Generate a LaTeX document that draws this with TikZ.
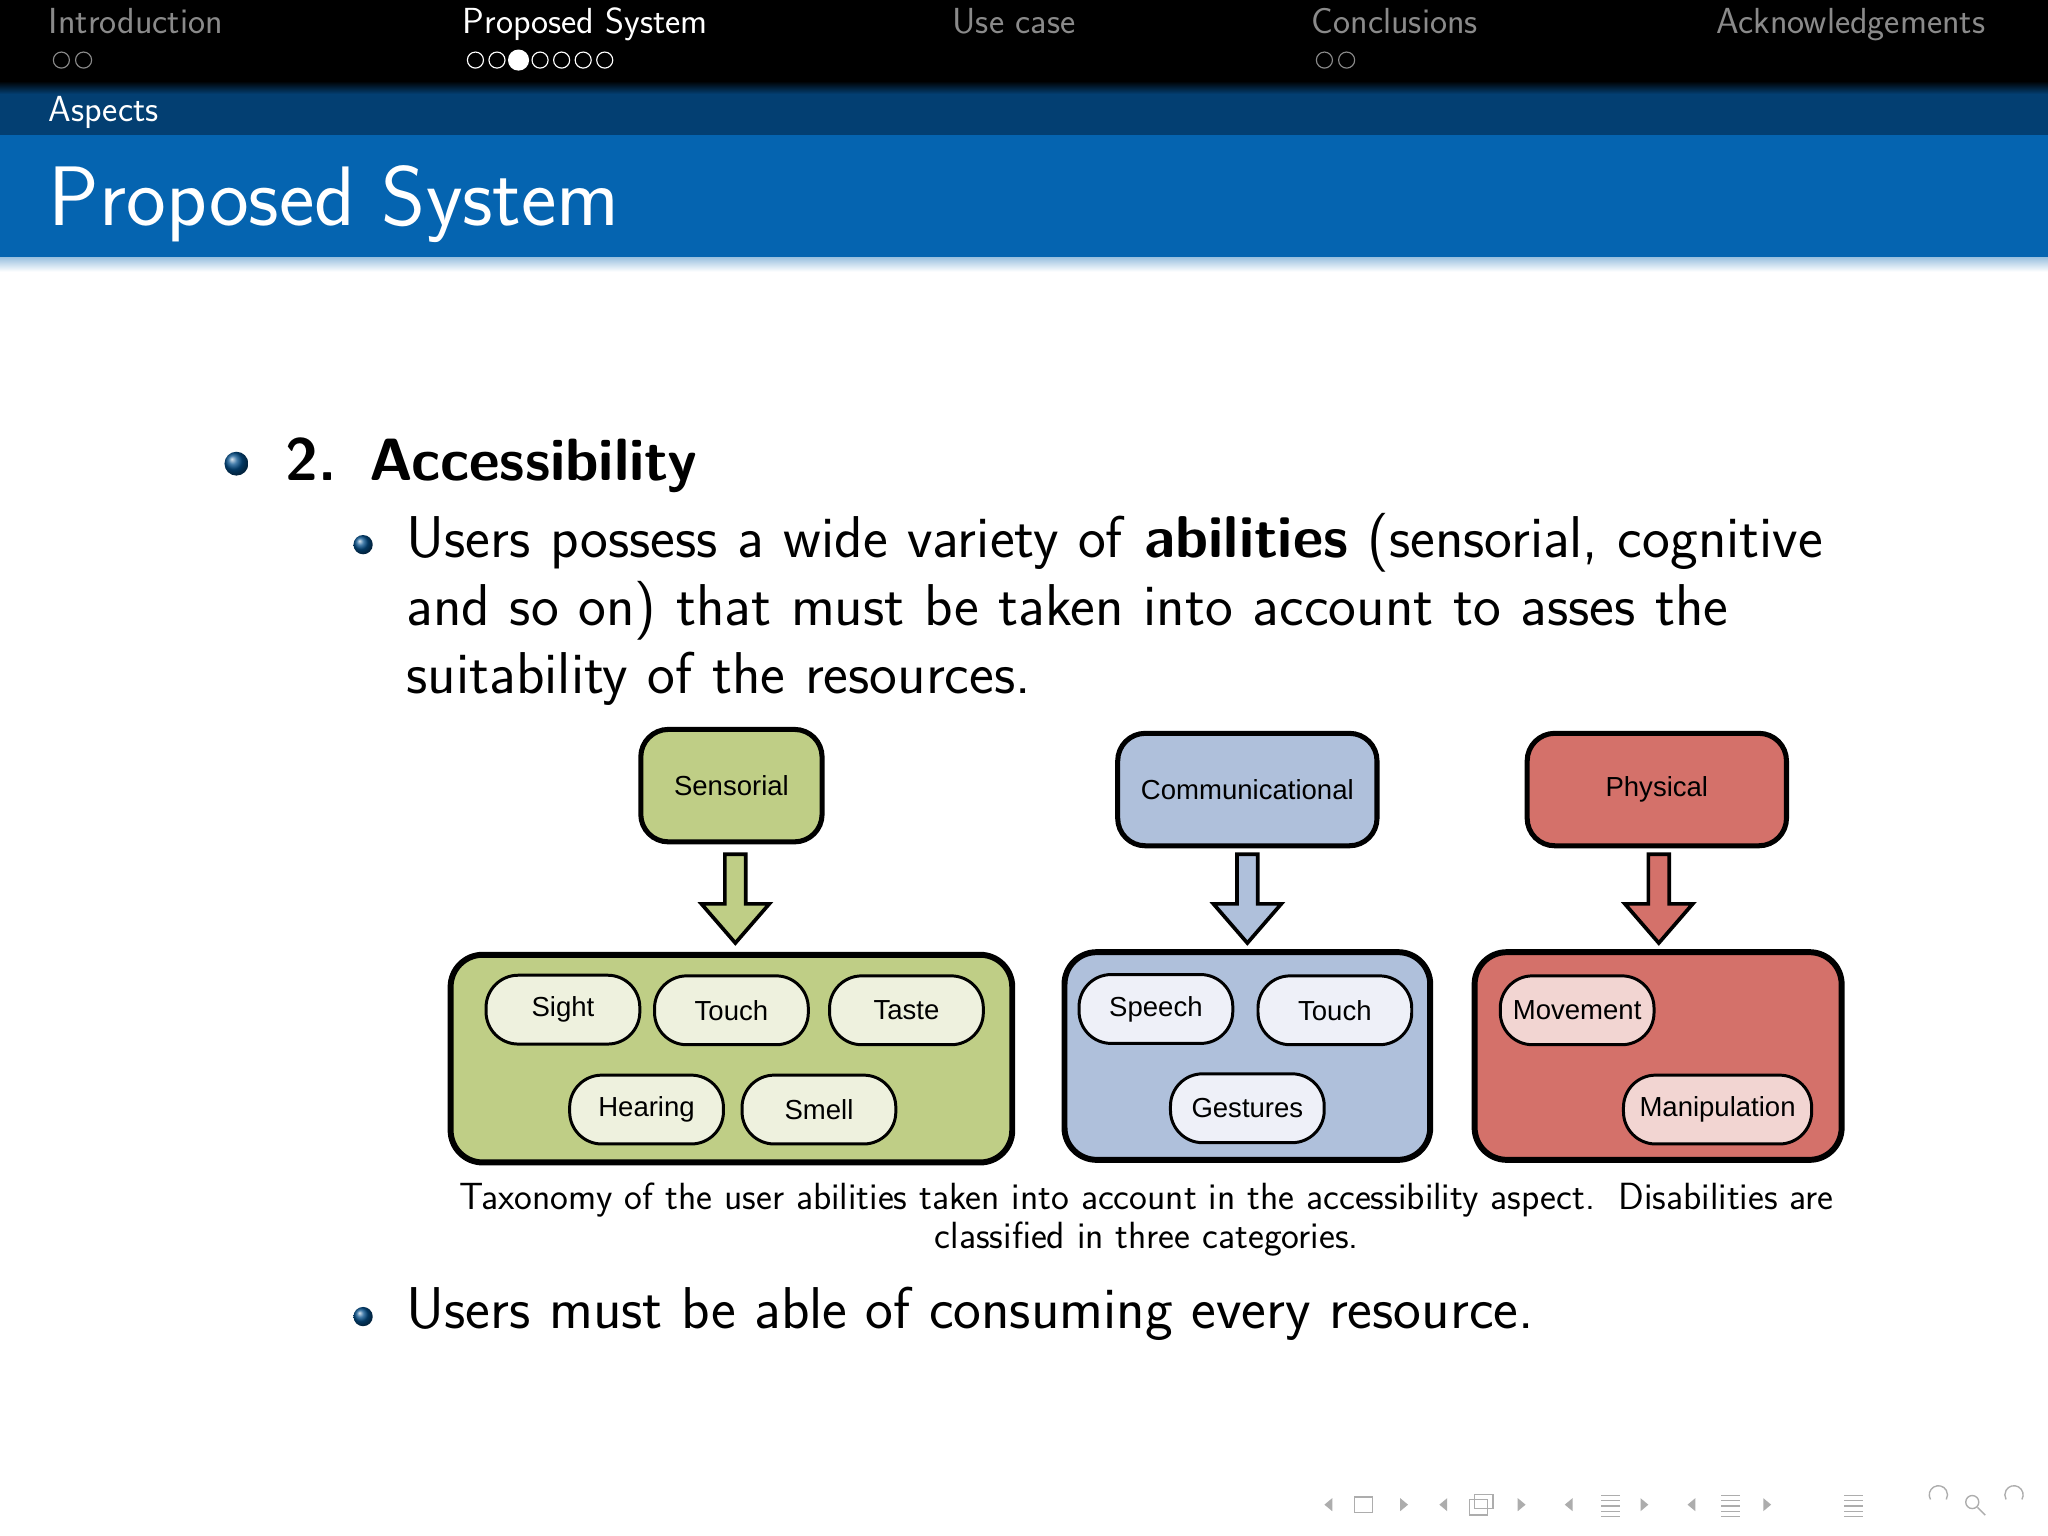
\documentclass[tikz,border=0pt]{standalone}
\usepackage{fontspec}
\newfontfamily\arial{Liberation Sans}
\usetikzlibrary{shadings,calc}
\definecolor{hdrblue}{HTML}{0564B0}
\definecolor{hdrdark}{HTML}{033F72}
\definecolor{navgray}{HTML}{8A8A8A}
\definecolor{gfill}{HTML}{BFCE86}
\definecolor{bfill}{HTML}{AFC0DB}
\definecolor{rfill}{HTML}{D4716A}
\definecolor{gpill}{HTML}{EEF1DE}
\definecolor{bpill}{HTML}{EEF0F8}
\definecolor{rpill}{HTML}{F2D5D2}
\tikzset{
 cat/.style={draw=black,line width=2.2pt,rounded corners=12pt,font=\arial\fontsize{12}{14}\selectfont},
 big/.style={draw=black,line width=2.6pt,rounded corners=14pt},
 pill/.style={draw=black,line width=1.3pt,rounded corners=14pt,minimum width=67pt,minimum height=30pt,font=\arial\fontsize{12}{14}\selectfont,inner sep=0pt},
 blk/.style={draw=black,line width=1.6pt,line join=miter},
 nav/.style={text=navgray,font=\sffamily\fontsize{15.8}{18}\selectfont,anchor=base west,inner sep=0pt},
 navdot/.style={draw=navgray,line width=0.5pt,circle,inner sep=0pt,minimum size=7pt},
 txt/.style={anchor=base west,inner sep=0pt},
}
\newcommand{\bball}[2]{\shade[ball color=hdrblue!80!black] (#1,#2) circle (5.2pt);}
\newcommand{\sball}[2]{\shade[ball color=hdrblue!80!black] (#1,#2) circle (4.2pt);}
\newcommand{\blockarrow}[3]{% x, ytop, fill
 \draw[blk,fill=#3] (#1-8,#2) -- (#1+8,#2) -- (#1+8,#2+38) -- (#1+26,#2+38) -- (#1,#2+68) -- (#1-26,#2+38) -- (#1-8,#2+38) -- cycle;}
\begin{document}
\begin{tikzpicture}[x=0.02cm,y=-0.02cm]
\useasboundingbox (0,0) rectangle (1568,1176);
\fill[white] (0,0) rectangle (1568,1176);
% header
\fill[black] (0,0) rectangle (1568,68);
\shade[top color=black,bottom color=hdrdark] (0,62) rectangle (1568,72);
\fill[hdrdark] (0,72) rectangle (1568,103);
\fill[hdrblue] (0,103) rectangle (1568,197);
\shade[top color=hdrblue!40,bottom color=white] (0,197) rectangle (1568,208);
\node[nav] (n1) at (37,26) {Introduction};
\node[nav,text=white] (n2) at (354,26) {Proposed System};
\node[nav] (n3) at (729,26) {Use case};
\node[nav] (n4) at (1004,26) {Conclusions};
\node[nav] (n5) at (1314,26) {Acknowledgements};
\foreach \x in {0,1}{\node[navdot] at (47+\x*17,46) {};}
\foreach \x in {0,...,6}{\node[navdot,draw=white] at (364+\x*16.5,46) {};}
\fill[white] (397,46) circle (4.6pt);
\foreach \x in {0,1}{\node[navdot] at (1014+\x*17,46) {};}
\node[txt,text=white,font=\sffamily\fontsize{15.8}{18}\selectfont] (asp) at (37,93) {Aspects};
\node[txt,text=white,font=\sffamily\fontsize{36.8}{40}\selectfont] (title) at (37,173) {Proposed System};
% body
\bball{181}{355}
\node[txt,font=\sffamily\bfseries\fontsize{26}{30}\selectfont] (h) at (218,368) {2.\hspace{0.55em}Accessibility};
\sball{278}{417}
\node[txt,font=\sffamily\fontsize{25.7}{29.5}\selectfont,align=left,text width=1300] (p1) at (311,427)
 {Users possess a wide variety of \textbf{abilities} (sensorial, cognitive\\ and so on) that must be taken into account to asses the\\ suitability of the resources.};
% diagram
\node[cat,fill=gfill,minimum width=79pt,minimum height=49pt] (sen) at (560,601.5) {Sensorial};
\node[cat,fill=bfill,minimum width=113pt,minimum height=49pt] (com) at (955,604.5) {Communicational};
\node[cat,fill=rfill,minimum width=113pt,minimum height=49pt] (phy) at (1268.5,604.5) {Physical};
\draw[big,fill=gfill] (345,731) rectangle (775,890);
\draw[big,fill=bfill] (815,729) rectangle (1095,888);
\draw[big,fill=rfill] (1129,729) rectangle (1410,888);
\blockarrow{563}{654}{gfill}
\blockarrow{955}{654}{bfill}
\blockarrow{1270}{654}{rfill}
\node[pill,fill=gpill] (p) at (431,773) {Sight};
\node[pill,fill=gpill] (p) at (560,773.5) {Touch};
\node[pill,fill=gpill] (p) at (694,773.5) {Taste};
\node[pill,fill=gpill] (p) at (495,849.5) {Hearing};
\node[pill,fill=gpill] (p) at (627,849.5) {Smell};
\node[pill,fill=bpill] (p) at (885,772.5) {Speech};
\node[pill,fill=bpill] (p) at (1022,773.5) {Touch};
\node[pill,fill=bpill] (p) at (955,848.5) {Gestures};
\node[pill,fill=rpill] (p) at (1207.5,773.5) {Movement};
\node[pill,fill=rpill,minimum width=82pt] (p) at (1315,849.5) {Manipulation};
\node[font=\sffamily\fontsize{16.5}{17}\selectfont,align=center] (cap) at (878,934)
 {Taxonomy of the user abilities taken into account in the accessibility aspect.\ \ Disabilities are\\ classified in three categories.};
\sball{278}{1008}
\node[txt,font=\sffamily\fontsize{25.7}{29.5}\selectfont] (p2) at (311,1017) {Users must be able of consuming every resource.};
% nav symbols
\begin{scope}[draw=navgray!70,fill=navgray!70,line width=0.6pt]
\foreach \x in {1014,1102,1198,1292}{\fill (\x,1152) -- (\x+6,1147) -- (\x+6,1157) -- cycle;}
\foreach \x in {1078,1168,1262,1356}{\fill (\x,1152) -- (\x-6,1147) -- (\x-6,1157) -- cycle;}
\draw (1037,1146) rectangle (1051,1158);
\draw (1125,1148) rectangle (1139,1160); \draw (1129,1144) rectangle (1143,1155);
\foreach \x in {1226,1318,1412}{\foreach \y in {1145,1149,1153,1157,1161}{\draw (\x,\y) -- (\x+14,\y);}}
\draw (1478,1148) arc (150:390:7); \draw (1510,1150) circle (5); \draw (1514,1154) -- (1520,1160);
\draw (1548,1148) arc (30:-210:7);
\end{scope}
\end{tikzpicture}
\end{document}
